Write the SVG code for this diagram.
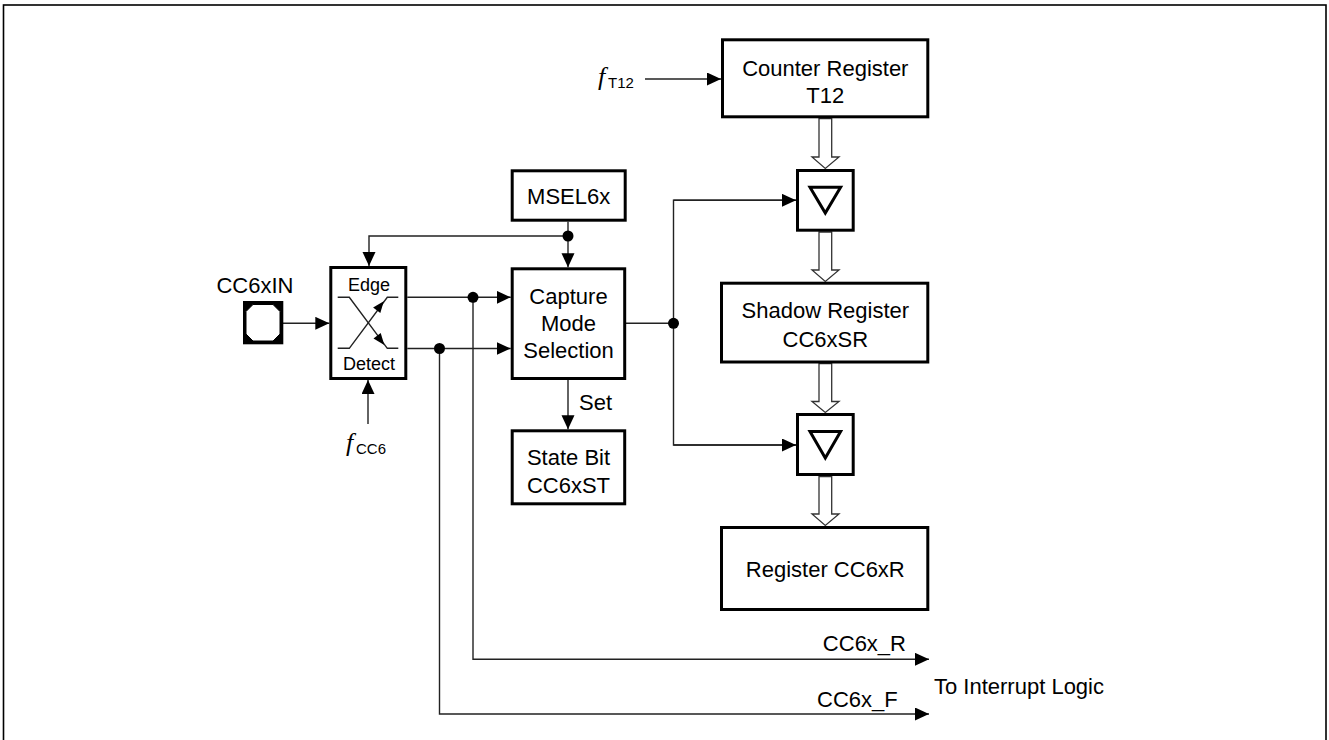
<svg xmlns="http://www.w3.org/2000/svg" width="1329" height="740" viewBox="0 0 1329 740">
<defs>
<style>
.box{fill:#fff;stroke:#000;stroke-width:3}
.ln{fill:none;stroke:#222;stroke-width:1.4}
.t{font-family:'Liberation Sans',Arial,sans-serif;font-size:22px;fill:#000}
.s{font-family:'Liberation Sans',Arial,sans-serif;font-size:18px;fill:#000}
.c{text-anchor:middle}
.fi{font-family:'Liberation Serif','Times New Roman',serif;font-style:italic;font-size:26px;fill:#000}
.sub{font-family:'Liberation Sans',Arial,sans-serif;font-size:15px;fill:#000}
.hol{fill:#fff;stroke:#333;stroke-width:1.3}
.dot{fill:#000}
.tri{fill:none;stroke:#000;stroke-width:3;stroke-linejoin:miter}
</style>
<marker id="ah" markerUnits="userSpaceOnUse" markerWidth="15" markerHeight="14" refX="14" refY="6.5" orient="auto">
<path d="M0,0 L14,6.5 L0,13 z" fill="#000"/>
</marker>
</defs>
<rect x="3.5" y="5" width="1322.5" height="745" fill="none" stroke="#000" stroke-width="1.6"/>

<g id="connectors">
<line class="ln" x1="283" y1="323.3" x2="329.3" y2="323.3" marker-end="url(#ah)"/>
<line class="ln" x1="568" y1="221.7" x2="568" y2="267.3" marker-end="url(#ah)"/>
<polyline class="ln" points="568,236 369,236 369,266" marker-end="url(#ah)"/>
<line class="ln" x1="368" y1="424" x2="368" y2="380" marker-end="url(#ah)"/>
<line class="ln" x1="407.3" y1="297.3" x2="510.7" y2="297.3" marker-end="url(#ah)"/>
<line class="ln" x1="407.3" y1="348.5" x2="510.7" y2="348.5" marker-end="url(#ah)"/>
<polyline class="ln" points="473,297.3 473,659.3 929,659.3" marker-end="url(#ah)"/>
<polyline class="ln" points="439.5,348.5 439.5,714 929,714" marker-end="url(#ah)"/>
<line class="ln" x1="626" y1="323.3" x2="673.5" y2="323.3"/>
<polyline class="ln" points="796,200.3 673.5,200.3 673.5,445 796,445"/>
<line class="ln" x1="673.5" y1="200.3" x2="796" y2="200.3" marker-end="url(#ah)"/>
<line class="ln" x1="673.5" y1="445" x2="796" y2="445" marker-end="url(#ah)"/>
<line class="ln" x1="568" y1="380" x2="568" y2="429.3" marker-end="url(#ah)"/>
<line class="ln" x1="645" y1="79" x2="721" y2="79" marker-end="url(#ah)"/>
<circle class="dot" cx="568" cy="236" r="5.5"/>
<circle class="dot" cx="473" cy="297.3" r="5.5"/>
<circle class="dot" cx="439.5" cy="348.5" r="5.5"/>
<circle class="dot" cx="673.5" cy="323.3" r="5.5"/>
<polygon class="hol" points="819,118.5 819,157 812,157 825.3,168.5 839,157 831.7,157 831.7,118.5"/>
<polygon class="hol" points="819,232 819,270 812,270 825.3,281.5 839,270 831.7,270 831.7,232"/>
<polygon class="hol" points="819,363.5 819,401.5 812,401.5 825.3,412.5 839,401.5 831.7,401.5 831.7,363.5"/>
<polygon class="hol" points="819,476.5 819,514 812,514 825.3,525.5 839,514 831.7,514 831.7,476.5"/>
</g>

<g id="pad">
<rect x="243" y="301" width="40.3" height="43.3" fill="#000"/>
<polygon points="253,304.5 273,304.5 280,311.5 280,334 273,341 253,341 246,334 246,311.5" fill="#fff" stroke="#000" stroke-width="1"/>
<text class="t c" x="255" y="292.7">CC6xIN</text>
</g>

<g id="edge-detect">
<rect class="box" x="330.8" y="267.5" width="75" height="111"/>
<text class="s c" x="369" y="290.5">Edge</text>
<text class="s c" x="369" y="370">Detect</text>
<polyline class="ln" points="337.7,297.3 349.3,297.3 387.3,348.3 398.3,348.3"/>
<polyline class="ln" points="337.7,348.3 349.3,348.3 387.3,297.3 398.3,297.3"/>
<polygon points="383.8,301.2 380.3,313 373.1,307.6" fill="#000"/>
<polygon points="384.3,344.9 380.7,333.1 373.5,338.5" fill="#000"/>
</g>

<g id="fcc6">
<text class="fi" x="346" y="451">f</text>
<text class="sub" x="356" y="454">CC6</text>
</g>

<g id="ft12">
<text class="fi" x="598" y="85">f</text>
<text class="sub" x="608" y="88.3">T12</text>
</g>

<g id="msel">
<rect class="box" x="512.2" y="170.8" width="113" height="49.4"/>
<text class="t c" x="568.7" y="204.3">MSEL6x</text>
</g>

<g id="capture">
<rect class="box" x="512.2" y="268.8" width="112.5" height="109.7"/>
<text class="t c" x="568.5" y="304">Capture</text>
<text class="t c" x="568.5" y="330.7">Mode</text>
<text class="t c" x="568.5" y="358.3">Selection</text>
</g>

<g id="set-label">
<text class="t" x="579" y="410">Set</text>
</g>

<g id="statebit">
<rect class="box" x="512.2" y="430.8" width="112.5" height="73"/>
<text class="t c" x="568.5" y="465">State Bit</text>
<text class="t c" x="568.5" y="493">CC6xST</text>
</g>

<g id="counter">
<rect class="box" x="722.5" y="39.8" width="205.3" height="77"/>
<text class="t c" x="825.3" y="76">Counter Register</text>
<text class="t c" x="825.3" y="103">T12</text>
</g>

<g id="delay1">
<rect class="box" x="797.5" y="170.5" width="55.7" height="59.7"/>
<polygon class="tri" points="810,187.2 840.6,187.2 825.3,213"/>
</g>

<g id="shadow">
<rect class="box" x="721.5" y="283.2" width="206.3" height="78.8"/>
<text class="t c" x="825.3" y="318">Shadow Register</text>
<text class="t c" x="825.3" y="346.7">CC6xSR</text>
</g>

<g id="delay2">
<rect class="box" x="797.5" y="414.5" width="55.7" height="60"/>
<polygon class="tri" points="810,431.5 840.6,431.5 825.3,458"/>
</g>

<g id="register">
<rect class="box" x="721.5" y="527.5" width="206.3" height="82"/>
<text class="t c" x="825.3" y="577">Register CC6xR</text>
</g>

<g id="outputs">
<text class="t" x="906" y="651" text-anchor="end">CC6x_R</text>
<text class="t" x="817" y="707">CC6x_F</text>
<text class="t" x="934" y="694">To Interrupt Logic</text>
</g>
</svg>
